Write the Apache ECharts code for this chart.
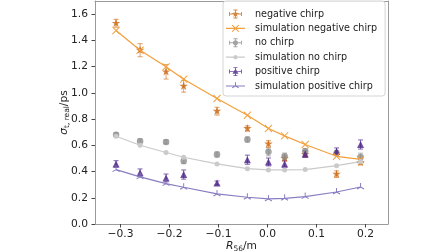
<!DOCTYPE html>
<html>
<head>
<meta charset="utf-8">
<script src="https://cdn.jsdelivr.net/npm/echarts@6/dist/echarts.min.js"></script>
<style>
  html, body { margin: 0; padding: 0; background: #fff; }
  #main { width: 448px; height: 252px; }
</style>
</head>
<body>
<div id="main"></div>
<script>
// R56 positions (m)
var xVals = [-0.309, -0.26, -0.207, -0.171, -0.103, -0.041, 0.002, 0.035, 0.077, 0.141, 0.19];

var negChirp    = [1.53, 1.325, 1.16, 1.05, 0.86, 0.728, 0.61, 0.50, 0.53, 0.38, 0.47];
var negChirpErr = [0.03, 0.05, 0.055, 0.045, 0.03, 0.02, 0.025, 0.02, 0.02, 0.025, 0.02];
var simNeg      = [1.475, 1.325, 1.198, 1.104, 0.957, 0.829, 0.728, 0.672, 0.606, 0.516, 0.492];

var noChirp     = [0.68, 0.63, 0.626, 0.48, 0.53, 0.644, 0.55, 0.516, 0.555, 0.54, 0.51];
var noChirpErr  = [0.015, 0.02, 0.015, 0.02, 0.02, 0.02, 0.03, 0.025, 0.02, 0.02, 0.03];
var simNo       = [0.669, 0.60, 0.545, 0.509, 0.458, 0.422, 0.412, 0.412, 0.415, 0.445, 0.476];

var posChirp    = [0.458, 0.39, 0.351, 0.377, 0.313, 0.49, 0.473, 0.458, 0.534, 0.555, 0.606];
var posChirpErr = [0.025, 0.03, 0.03, 0.035, 0.015, 0.035, 0.03, 0.025, 0.025, 0.025, 0.035];
var simPos      = [0.415, 0.359, 0.308, 0.28, 0.229, 0.204, 0.191, 0.196, 0.209, 0.244, 0.282];

var xTicks = [-0.3, -0.2, -0.1, 0.0, 0.1, 0.2];
var yTicks = [0.0, 0.2, 0.4, 0.6, 0.8, 1.0, 1.2, 1.4, 1.6];

var FONT = 'DejaVu Sans';
var SPINE = '#9a9a9a';
var C = {
  neg: '#c9660f', negErr: 'rgba(214,120,40,0.65)', negSim: '#f2a03c',
  no: '#8c8c8c', noErr: 'rgba(140,140,140,0.6)', noSim: '#cacaca',
  pos: '#4b2287', posErr: 'rgba(80,40,140,0.65)', posSim: '#8a7dc1'
};

// --- little path helpers for markers / legend icons ---
function f(n) { return Math.round(n * 1000) / 1000; }
function seg(x1, y1, x2, y2, w) {
  var dx = x2 - x1, dy = y2 - y1, L = Math.hypot(dx, dy);
  var nx = -dy / L * w / 2, ny = dx / L * w / 2;
  return 'M' + f(x1 + nx) + ',' + f(y1 + ny) + 'L' + f(x2 + nx) + ',' + f(y2 + ny) +
         'L' + f(x2 - nx) + ',' + f(y2 - ny) + 'L' + f(x1 - nx) + ',' + f(y1 - ny) + 'Z';
}
function poly(pts) {
  var a = 0;
  for (var i = 0; i < pts.length; i++) {
    var p = pts[i], q = pts[(i + 1) % pts.length];
    a += p[0] * q[1] - q[0] * p[1];
  }
  if (a > 0) pts = pts.slice().reverse();
  return 'M' + pts.map(function (p) { return f(p[0]) + ',' + f(p[1]); }).join('L') + 'Z';
}
function star(cx, cy, R, r) {
  var pts = [];
  for (var i = 0; i < 10; i++) {
    var a = (-90 + i * 36) * Math.PI / 180, rr = i % 2 ? r : R;
    pts.push([cx + rr * Math.cos(a), cy + rr * Math.sin(a)]);
  }
  return poly(pts);
}
function circ(cx, cy, r) {
  var pts = [];
  for (var i = 0; i < 16; i++) {
    var a = i * Math.PI / 8;
    pts.push([cx + r * Math.cos(a), cy + r * Math.sin(a)]);
  }
  return poly(pts);
}
function dot(x, y) { return 'M' + x + ',' + y + 'L' + (x + 0.02) + ',' + y + 'L' + x + ',' + (y + 0.02) + 'Z'; }
function xMark(cx, cy, r, w) { return seg(cx - r, cy - r, cx + r, cy + r, w) + seg(cx + r, cy - r, cx - r, cy + r, w); }
function triUp(cx, cy, r, w) {
  return seg(cx, cy, cx, cy - r, w) + seg(cx, cy, cx - r * 0.866, cy + r * 0.5, w) + seg(cx, cy, cx + r * 0.866, cy + r * 0.5, w);
}

var STAR = 'path://' + star(10, 10, 10, 3.9) + dot(0, 0) + dot(20, 20);
var XSYM = 'path://' + xMark(5, 5, 4, 1.1) + dot(0, 0) + dot(10, 10);
var TRISYM = 'path://' + triUp(5, 5, 4.5, 1.1) + dot(0, 0) + dot(10, 10);

// legend icons: 24x9 box, drawing in 0..19
function bounds() { return dot(0, 0) + dot(24, 9); }
function errIcon(marker) {
  var cx = 9.5, cy = 4.5, w = 0.9;
  return 'path://' + seg(3.5, cy, 15.5, cy, w) + seg(cx, 0.5, cx, 8.5, w) +
    seg(7.5, 0.5, 11.5, 0.5, w) + seg(7.5, 8.5, 11.5, 8.5, w) +
    seg(3.5, 2.5, 3.5, 6.5, w) + seg(15.5, 2.5, 15.5, 6.5, w) + marker + bounds();
}
function simIcon(marker) {
  return 'path://' + seg(0, 4.5, 19, 4.5, 1.2) + marker + bounds();
}

function pair(ys) { return xVals.map(function (x, i) { return [x, ys[i]]; }); }
function errData(ys, es) { return xVals.map(function (x, i) { return [x, ys[i], es[i]]; }); }

function errSeries(ys, es, color) {
  return {
    type: 'custom',
    silent: true,
    data: errData(ys, es),
    encode: { x: 0, y: 1 },
    renderItem: function (params, api) {
      var x = api.value(0), y = api.value(1), e = api.value(2);
      var lo = api.coord([x, y - e]), hi = api.coord([x, y + e]);
      var st = { stroke: color, lineWidth: 1.1 };
      return {
        type: 'group',
        children: [
          { type: 'line', shape: { x1: lo[0], y1: lo[1], x2: hi[0], y2: hi[1] }, style: st },
          { type: 'line', shape: { x1: lo[0] - 2.5, y1: lo[1], x2: lo[0] + 2.5, y2: lo[1] }, style: st },
          { type: 'line', shape: { x1: hi[0] - 2.5, y1: hi[1], x2: hi[0] + 2.5, y2: hi[1] }, style: st }
        ]
      };
    }
  };
}

var nameRich = {
  i: { fontSize: 10.7, fontStyle: 'italic', fontFamily: FONT, color: '#222' },
  s: { fontSize: 7.5, fontFamily: FONT, color: '#222', padding: [5, 0, 0, 0] },
  n: { fontSize: 10.7, fontFamily: FONT, color: '#222' }
};

var chart = echarts.init(document.getElementById('main'));
var option = {
  animation: false,
  textStyle: { fontFamily: FONT },
  grid: { left: 95, right: 60, top: 1, bottom: 28, outerBoundsMode: 'none', containLabel: false },
  xAxis: [{
    type: 'value', min: -0.352, max: 0.246,
    name: '{i|R}{s|56}{n|/m}',
    nameLocation: 'middle', nameGap: 16, nameMoveOverlap: false,
    nameTextStyle: { rich: nameRich },
    axisLine: { onZero: false, lineStyle: { color: SPINE } },
    axisTick: { length: 3.5, lineStyle: { color: '#444' }, customValues: xTicks },
    axisLabel: {
      customValues: xTicks, fontSize: 10.7, color: '#222', margin: 5, fontFamily: FONT,
      formatter: function (v) { return v.toFixed(1).replace('-', '\u2212'); }
    },
    splitLine: { show: false }
  }, {
    // top spine
    type: 'value', position: 'top', min: -0.352, max: 0.246,
    axisLine: { show: true, onZero: false, lineStyle: { color: SPINE } },
    axisTick: { show: false }, axisLabel: { show: false }, splitLine: { show: false }
  }],
  yAxis: [{
    type: 'value', min: 0, max: 1.7,
    name: '{i|\u03c3}{s|t, real}{n|/ps}',
    nameLocation: 'middle', nameGap: 24, nameMoveOverlap: false,
    nameTextStyle: { rich: nameRich },
    axisLine: { show: true, onZero: false, lineStyle: { color: SPINE } },
    axisTick: { show: true, length: 3.5, lineStyle: { color: '#444' }, customValues: yTicks },
    axisLabel: {
      customValues: yTicks, fontSize: 10.7, color: '#222', margin: 7, fontFamily: FONT,
      formatter: function (v) { return v.toFixed(1); }
    },
    splitLine: { show: false }
  }, {
    // right spine
    type: 'value', position: 'right', min: 0, max: 1.7,
    axisLine: { show: true, onZero: false, lineStyle: { color: SPINE } },
    axisTick: { show: false }, axisLabel: { show: false }, splitLine: { show: false }
  }],
  legend: {
    orient: 'vertical', left: 223, top: 1,
    padding: [7, 8, 4, 3],
    itemWidth: 24, itemHeight: 9, itemGap: 2.4,
    selectedMode: false,
    backgroundColor: 'rgba(255,255,255,0.85)',
    borderColor: '#d4d4d4', borderWidth: 1, borderRadius: 3,
    textStyle: { fontSize: 9.6, color: '#222', fontFamily: FONT, lineHeight: 12 },
    data: [
      { name: 'negative chirp', icon: errIcon(star(9.5, 4.5, 3.6, 1.4)), itemStyle: { color: C.neg, borderWidth: 0 } },
      { name: 'simulation negative chirp', icon: simIcon(xMark(9.5, 4.5, 3.3, 1.0)), itemStyle: { color: C.negSim, borderWidth: 0 } },
      { name: 'no chirp', icon: errIcon(circ(9.5, 4.5, 2.6)), itemStyle: { color: C.no, borderWidth: 0 } },
      { name: 'simulation no chirp', icon: simIcon(circ(9.5, 4.5, 2.1)), itemStyle: { color: C.noSim, borderWidth: 0 } },
      { name: 'positive chirp', icon: errIcon(poly([[9.5, 1.3], [12.5, 6.7], [6.5, 6.7]])), itemStyle: { color: C.pos, borderWidth: 0 } },
      { name: 'simulation positive chirp', icon: simIcon(triUp(9.5, 4.5, 3.8, 1.0)), itemStyle: { color: C.posSim, borderWidth: 0 } }
    ]
  },
  series: [
    errSeries(negChirp, negChirpErr, C.negErr),
    { name: 'negative chirp', type: 'scatter', data: pair(negChirp), symbol: STAR, symbolSize: 9, symbolKeepAspect: true,
      itemStyle: { color: C.neg } },
    { name: 'simulation negative chirp', type: 'line', data: pair(simNeg), symbol: XSYM, symbolSize: 9, showSymbol: true,
      itemStyle: { color: C.negSim }, lineStyle: { color: C.negSim, width: 1.2 } },

    errSeries(noChirp, noChirpErr, C.noErr),
    { name: 'no chirp', type: 'scatter', data: pair(noChirp), symbol: 'circle', symbolSize: 6.5,
      itemStyle: { color: C.no } },
    { name: 'simulation no chirp', type: 'line', data: pair(simNo), symbol: 'circle', symbolSize: 5, showSymbol: true,
      itemStyle: { color: C.noSim }, lineStyle: { color: C.noSim, width: 1.2 } },

    errSeries(posChirp, posChirpErr, C.posErr),
    { name: 'positive chirp', type: 'scatter', data: pair(posChirp), symbol: 'triangle', symbolSize: 7,
      itemStyle: { color: C.pos } },
    { name: 'simulation positive chirp', type: 'line', data: pair(simPos), symbol: TRISYM, symbolSize: 9, showSymbol: true,
      itemStyle: { color: C.posSim }, lineStyle: { color: C.posSim, width: 1.2 } }
  ]
};
chart.setOption(option);
</script>
</body>
</html>
